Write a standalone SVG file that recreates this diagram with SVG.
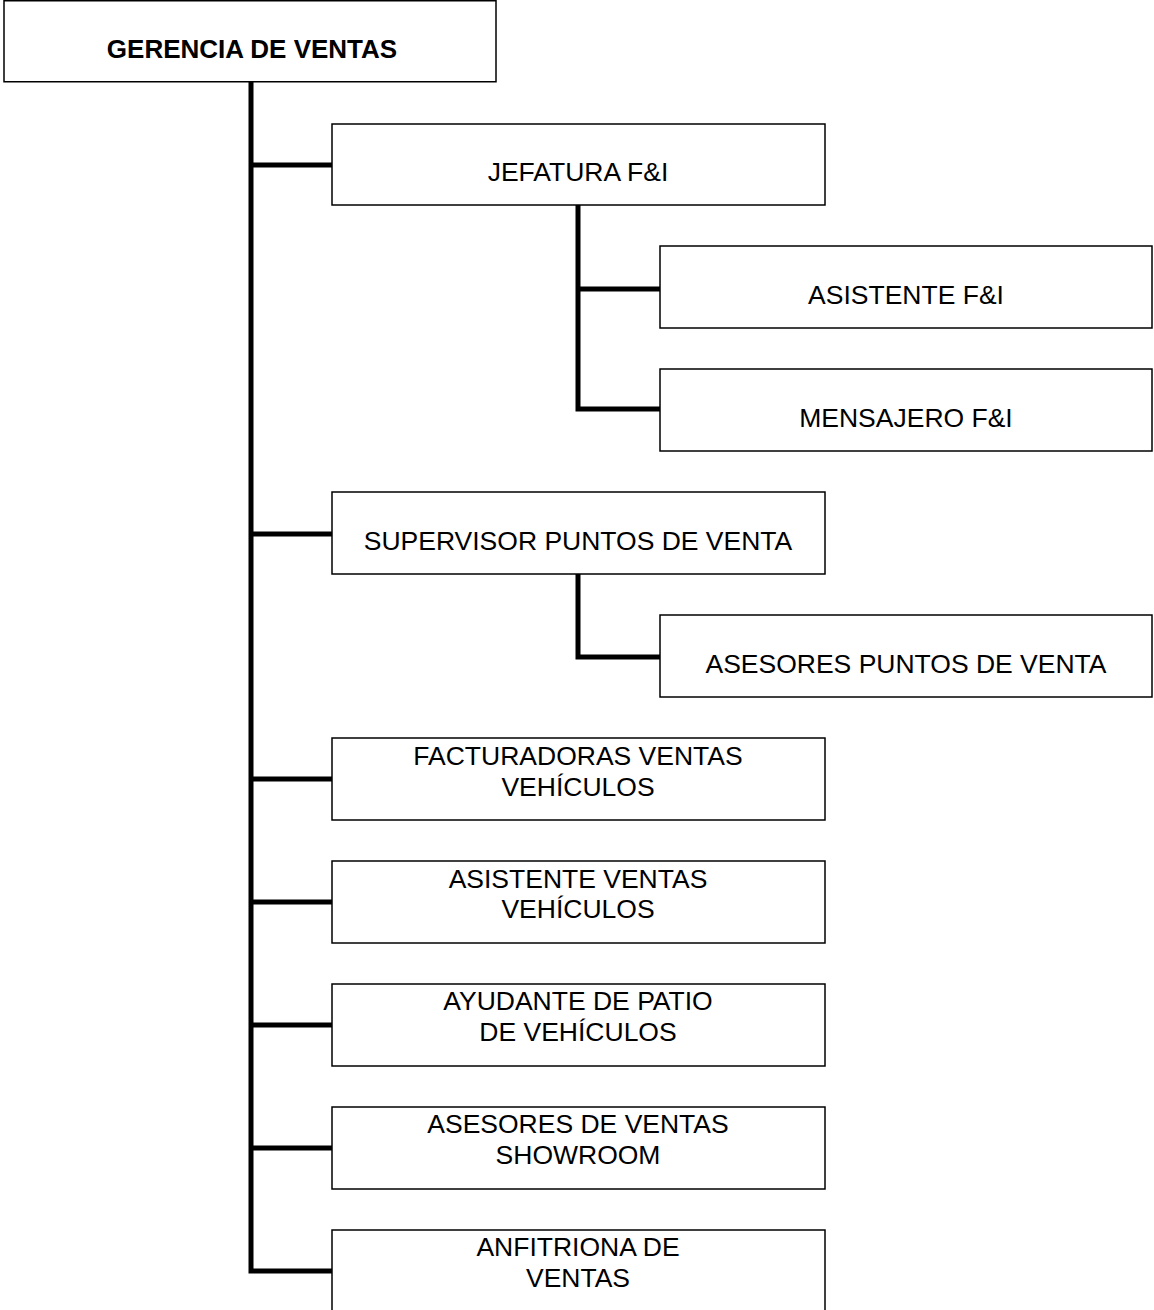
<svg xmlns="http://www.w3.org/2000/svg" width="1154" height="1310" viewBox="0 0 1154 1310">
<style>
.box{fill:#fff;stroke:#000;stroke-width:1.5}
.t{font-family:"Liberation Sans",Arial,sans-serif;font-size:26.5px;text-anchor:middle;fill:#000}
.b{font-weight:bold;font-size:26px}
.c{fill:none;stroke:#000;stroke-width:5;stroke-linejoin:miter;stroke-linecap:butt}
</style>
<rect width="1154" height="1310" fill="#fff"/>
<g id="connectors">
<path class="c" d="M251,82 V1271 H332"/>
<path class="c" d="M251,165 H332 M251,534 H332 M251,779 H332 M251,902 H332 M251,1025 H332 M251,1148 H332"/>
<path class="c" d="M578,205 V409 H660 M578,289 H660"/>
<path class="c" d="M578,574 V657 H660"/>
</g>
<g id="gerencia"><rect class="box" x="4" y="0.75" width="492" height="81"/><text class="t b" x="252" y="58">GERENCIA DE VENTAS</text></g>
<g id="jefatura"><rect class="box" x="332" y="124" width="493" height="81"/><text class="t" x="578" y="181">JEFATURA F&amp;I</text></g>
<g id="asistente-fi"><rect class="box" x="660" y="246" width="492" height="82"/><text class="t" x="906" y="304">ASISTENTE F&amp;I</text></g>
<g id="mensajero"><rect class="box" x="660" y="369" width="492" height="82"/><text class="t" x="906" y="427">MENSAJERO F&amp;I</text></g>
<g id="supervisor"><rect class="box" x="332" y="492" width="493" height="82"/><text class="t" x="578" y="550">SUPERVISOR PUNTOS DE VENTA</text></g>
<g id="asesores-pv"><rect class="box" x="660" y="615" width="492" height="82"/><text class="t" x="906" y="673">ASESORES PUNTOS DE VENTA</text></g>
<g id="facturadoras"><rect class="box" x="332" y="738" width="493" height="82"/><text class="t" x="578" y="765">FACTURADORAS VENTAS</text><text class="t" x="578" y="796">VEHÍCULOS</text></g>
<g id="asistente-ventas"><rect class="box" x="332" y="861" width="493" height="82"/><text class="t" x="578" y="888">ASISTENTE VENTAS</text><text class="t" x="578" y="918">VEHÍCULOS</text></g>
<g id="ayudante"><rect class="box" x="332" y="984" width="493" height="82"/><text class="t" x="578" y="1010">AYUDANTE DE PATIO</text><text class="t" x="578" y="1041">DE VEHÍCULOS</text></g>
<g id="asesores-showroom"><rect class="box" x="332" y="1107" width="493" height="82"/><text class="t" x="578" y="1133">ASESORES DE VENTAS</text><text class="t" x="578" y="1164">SHOWROOM</text></g>
<g id="anfitriona"><rect class="box" x="332" y="1230" width="493" height="90"/><text class="t" x="578" y="1256">ANFITRIONA DE</text><text class="t" x="578" y="1287">VENTAS</text></g>
</svg>
